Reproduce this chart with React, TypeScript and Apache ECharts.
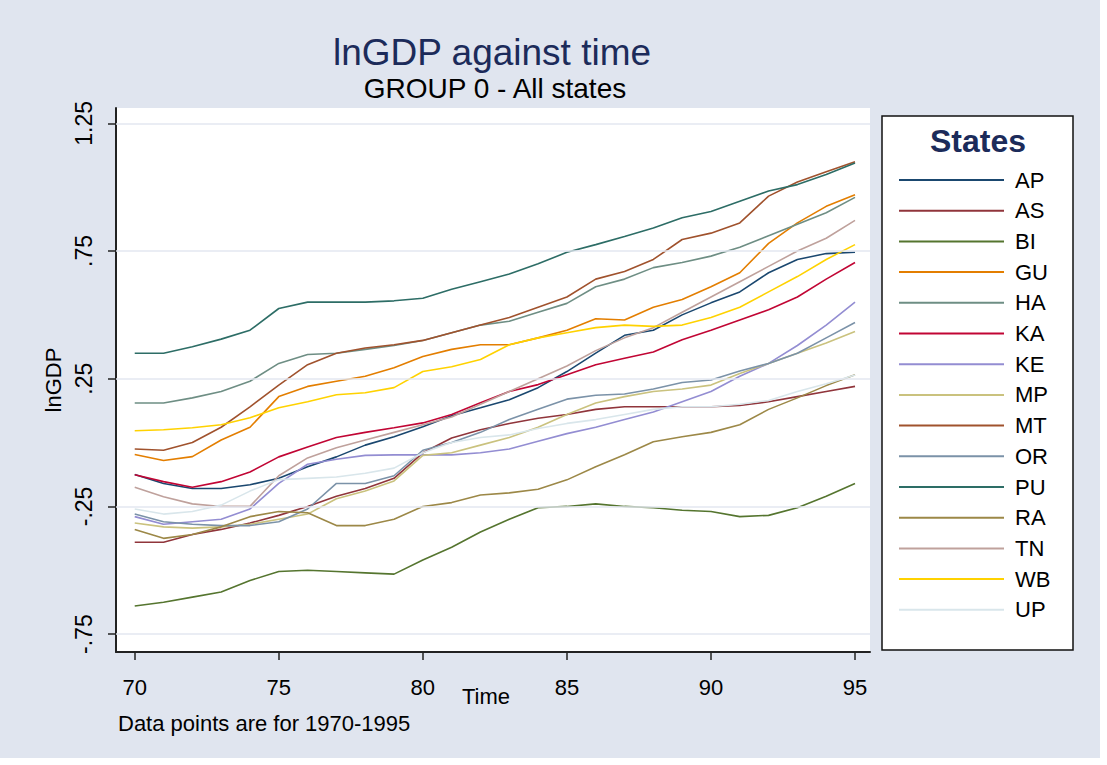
import React, { useEffect, useRef } from "react";
import * as echarts from "echarts";

const years = [70, 71, 72, 73, 74, 75, 76, 77, 78, 79, 80, 81, 82, 83, 84, 85, 86, 87, 88, 89, 90, 91, 92, 93, 94, 95];
const xTicks = [70, 75, 80, 85, 90, 95];
const yTicks = [-0.75, -0.25, 0.25, 0.75, 1.25];

const states = ["AP", "AS", "BI", "GU", "HA", "KA", "KE", "MP", "MT", "OR", "PU", "RA", "TN", "WB", "UP"];
const colors = ["#1a476f", "#90353b", "#55752f", "#e37e00", "#6e8e84", "#c10534", "#938dd2", "#cac27e", "#a0522d", "#7b92a8", "#2d6d66", "#9c8847", "#bfa19c", "#ffd200", "#d9e6eb"];

const AP = [-0.125, -0.16, -0.18, -0.18, -0.165, -0.14, -0.095, -0.056, -0.01, 0.023, 0.062, 0.105, 0.136, 0.168, 0.215, 0.278, 0.35, 0.42, 0.44, 0.5, 0.547, 0.59, 0.665, 0.717, 0.74, 0.745];
const AS = [-0.39, -0.39, -0.36, -0.34, -0.315, -0.285, -0.25, -0.21, -0.18, -0.14, -0.04, 0.018, 0.05, 0.075, 0.095, 0.11, 0.13, 0.14, 0.14, 0.14, 0.14, 0.145, 0.16, 0.18, 0.2, 0.22];
const BI = [-0.64, -0.625, -0.605, -0.585, -0.54, -0.505, -0.5, -0.505, -0.51, -0.515, -0.46, -0.41, -0.35, -0.3, -0.255, -0.25, -0.24, -0.25, -0.255, -0.265, -0.27, -0.29, -0.285, -0.255, -0.21, -0.16];
const GU = [-0.047, -0.07, -0.055, 0.01, 0.06, 0.18, 0.22, 0.24, 0.26, 0.293, 0.337, 0.365, 0.383, 0.383, 0.41, 0.44, 0.485, 0.48, 0.53, 0.56, 0.61, 0.665, 0.78, 0.86, 0.925, 0.97];
const HA = [0.155, 0.155, 0.175, 0.2, 0.24, 0.31, 0.345, 0.35, 0.365, 0.38, 0.4, 0.43, 0.46, 0.475, 0.51, 0.545, 0.61, 0.64, 0.685, 0.705, 0.73, 0.765, 0.81, 0.855, 0.9, 0.96];
const KA = [-0.126, -0.153, -0.175, -0.153, -0.115, -0.056, -0.017, 0.02, 0.04, 0.058, 0.077, 0.11, 0.156, 0.2, 0.227, 0.266, 0.305, 0.33, 0.355, 0.403, 0.44, 0.48, 0.52, 0.57, 0.64, 0.705];
const KE = [-0.29, -0.32, -0.31, -0.3, -0.26, -0.16, -0.085, -0.065, -0.05, -0.048, -0.048, -0.048, -0.04, -0.025, 0.005, 0.035, 0.06, 0.09, 0.12, 0.16, 0.2, 0.26, 0.31, 0.38, 0.46, 0.55];
const MP = [-0.315, -0.33, -0.335, -0.33, -0.32, -0.3, -0.28, -0.22, -0.19, -0.15, -0.05, -0.04, -0.01, 0.02, 0.06, 0.11, 0.155, 0.18, 0.2, 0.21, 0.225, 0.27, 0.31, 0.35, 0.39, 0.435];
const MT = [-0.025, -0.03, 0.0, 0.06, 0.14, 0.225, 0.305, 0.35, 0.37, 0.383, 0.4, 0.43, 0.46, 0.49, 0.53, 0.57, 0.64, 0.67, 0.717, 0.795, 0.82, 0.86, 0.965, 1.02, 1.06, 1.1];
const OR = [-0.28, -0.31, -0.32, -0.325, -0.325, -0.31, -0.26, -0.16, -0.16, -0.13, -0.03, 0.0, 0.04, 0.09, 0.13, 0.17, 0.185, 0.19, 0.21, 0.235, 0.245, 0.28, 0.31, 0.35, 0.41, 0.47];
const PU = [0.35, 0.35, 0.375, 0.405, 0.44, 0.525, 0.55, 0.55, 0.55, 0.555, 0.565, 0.6, 0.63, 0.66, 0.7, 0.745, 0.775, 0.807, 0.84, 0.88, 0.905, 0.945, 0.985, 1.01, 1.05, 1.095];
const RA = [-0.34, -0.375, -0.36, -0.33, -0.29, -0.27, -0.275, -0.325, -0.325, -0.3, -0.25, -0.235, -0.205, -0.197, -0.183, -0.146, -0.095, -0.048, 0.003, 0.023, 0.04, 0.07, 0.13, 0.175, 0.223, 0.266];
const TN = [-0.175, -0.212, -0.24, -0.25, -0.25, -0.13, -0.06, -0.02, 0.01, 0.04, 0.07, 0.1, 0.15, 0.2, 0.25, 0.3, 0.36, 0.41, 0.45, 0.51, 0.57, 0.63, 0.69, 0.75, 0.8, 0.87];
const WB = [0.046, 0.05, 0.058, 0.07, 0.097, 0.136, 0.16, 0.187, 0.195, 0.215, 0.278, 0.297, 0.325, 0.383, 0.41, 0.43, 0.45, 0.46, 0.455, 0.46, 0.49, 0.53, 0.59, 0.65, 0.717, 0.775];
const UP = [-0.26, -0.28, -0.27, -0.245, -0.19, -0.145, -0.14, -0.135, -0.12, -0.1, -0.04, 0.0, 0.02, 0.03, 0.055, 0.075, 0.09, 0.11, 0.13, 0.14, 0.14, 0.15, 0.165, 0.2, 0.23, 0.265];

const values = [AP, AS, BI, GU, HA, KA, KE, MP, MT, OR, PU, RA, TN, WB, UP];

const FONT = "'Liberation Sans', Arial, Helvetica, sans-serif";
const NAVY = "#1c2b5a";

function fmtY(v: number): string {
  const s = String(Math.round(v * 100) / 100);
  return s.replace(/^(-?)0\./, "$1.");
}

export default function App() {
  const ref = useRef<HTMLDivElement>(null);
  useEffect(() => {
    if (!ref.current) return;
    const chart = echarts.init(ref.current, undefined, { renderer: "svg" });
    const series: any[] = [
      {
        name: "grid",
        type: "line",
        data: [],
        silent: true,
        markLine: {
          silent: true,
          symbol: ["none", "none"],
          label: { show: false },
          lineStyle: { color: "#e3e7f0", width: 1.5, type: "solid" },
          data: yTicks.map((v) => ({ yAxis: v })),
        },
      },
    ];
    states.forEach((s, i) => {
      series.push({
        name: s,
        type: "line",
        symbol: "none",
        color: colors[i],
        lineStyle: { width: 1.6, color: colors[i] },
        data: years.map((y, j) => [y, values[i][j]]),
      });
    });
    chart.setOption({
      animation: false,
      backgroundColor: "#e0e5ef",
      textStyle: { fontFamily: FONT },
      grid: {
        left: 116,
        right: 237,
        top: 108,
        bottom: 113,
        show: true,
        backgroundColor: "#ffffff",
        borderWidth: 0,
      },
      xAxis: {
        type: "value",
        min: 69.35,
        max: 95.52,
        name: "Time",
        nameLocation: "middle",
        nameGap: 33,
        nameMoveOverlap: false,
        nameTextStyle: { fontSize: 22, color: "#000", fontFamily: FONT, padding: [0, 14, 0, 0] },
        axisLine: { onZero: false, lineStyle: { color: "#222", width: 2 } },
        axisTick: { customValues: xTicks, length: 8, lineStyle: { color: "#222", width: 1.5 } },
        axisLabel: { customValues: xTicks, fontSize: 22, color: "#000", margin: 24, fontFamily: FONT },
        splitLine: { show: false },
      },
      yAxis: {
        type: "value",
        min: -0.82,
        max: 1.31,
        name: "lnGDP",
        nameLocation: "middle",
        nameGap: 52,
        nameTextStyle: { fontSize: 22, color: "#000", fontFamily: FONT },
        axisLine: { show: true, onZero: false, lineStyle: { color: "#222", width: 2 } },
        axisTick: { show: true, customValues: yTicks, length: 8, lineStyle: { color: "#222", width: 1.5 } },
        axisLabel: {
          customValues: yTicks,
          rotate: 90,
          fontSize: 23,
          color: "#000",
          margin: 21,
          fontFamily: FONT,
          formatter: (v: number) => fmtY(v),
        },
        splitLine: { show: false },
      },
      legend: {
        data: states,
        orient: "vertical",
        left: 893,
        top: 164,
        itemWidth: 105,
        itemHeight: 14,
        itemGap: 8.7,
        selectedMode: false,
        itemStyle: { opacity: 0, borderWidth: 0 },
        textStyle: { fontSize: 22, lineHeight: 22, color: "#000", padding: [0, 0, 0, 6], fontFamily: FONT },
      },
      graphic: [
        { type: "rect", shape: { x: 1100, y: 0, width: 7, height: 765 }, style: { fill: "#ffffff" } },
        { type: "rect", shape: { x: 0, y: 758, width: 1107, height: 7 }, style: { fill: "#ffffff" } },
        {
          type: "rect",
          shape: { x: 882, y: 116, width: 191, height: 534 },
          style: { fill: "#ffffff", stroke: "#111", lineWidth: 1.5 },
        },
        {
          type: "text",
          x: 978,
          y: 141,
          style: { text: "States", fill: NAVY, font: `bold 32px ${FONT}`, align: "center", verticalAlign: "middle" },
        },
        {
          type: "text",
          x: 492,
          y: 52,
          style: { text: "lnGDP against time", fill: NAVY, font: `37px ${FONT}`, align: "center", verticalAlign: "middle" },
        },
        {
          type: "text",
          x: 495,
          y: 88,
          style: { text: "GROUP 0 - All states", fill: "#000", font: `28px ${FONT}`, align: "center", verticalAlign: "middle" },
        },
        {
          type: "text",
          x: 118,
          y: 723,
          style: { text: "Data points are for 1970-1995", fill: "#000", font: `22px ${FONT}`, align: "left", verticalAlign: "middle" },
        },
      ],
      series,
    });
    return () => chart.dispose();
  }, []);
  return (
    <div
      ref={ref}
      style={{ position: "fixed", left: 0, top: 0, width: 1107, height: 765, background: "#fff" }}
    />
  );
}
